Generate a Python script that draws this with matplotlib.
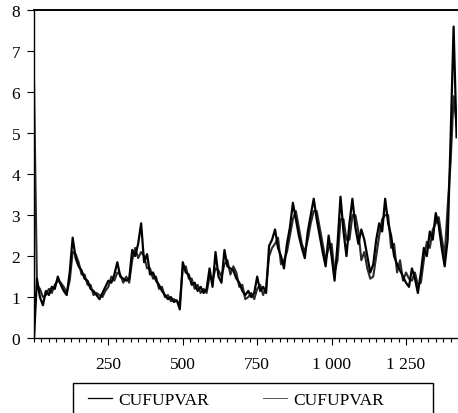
import numpy as np
import matplotlib
matplotlib.use("Agg")
import matplotlib.pyplot as plt
from matplotlib.ticker import MultipleLocator
from matplotlib.patches import Rectangle

cufupvar_a = [
    0.0, 1.45, 1.0, 0.8, 1.15, 1.05, 1.25, 1.2, 1.5, 1.3,
    1.15, 1.05, 1.6, 2.45, 1.95, 1.75, 1.65, 1.45, 1.4, 1.2,
    1.15, 1.05, 0.95, 1.1, 1.25, 1.4, 1.35, 1.55, 1.85, 1.5,
    1.45, 1.4, 1.45, 2.15, 2.0, 2.3, 2.8, 1.85, 2.05, 1.55,
    1.6, 1.4, 1.3, 1.15, 1.05, 0.95, 1.0, 0.88, 0.92, 0.7,
    1.85, 1.6, 1.55, 1.3, 1.35, 1.15, 1.25, 1.1, 1.2, 1.7,
    1.25, 2.1, 1.5, 1.35, 2.15, 1.75, 1.7, 1.65, 1.45, 1.35,
    1.15, 1.05, 1.15, 1.0, 1.1, 1.5, 1.15, 1.25, 1.1, 2.25,
    2.4, 2.65, 2.2, 2.0, 1.7, 2.3, 2.7, 3.3, 2.9, 2.5,
    2.2, 1.95, 2.6, 3.0, 3.4, 2.9, 2.5, 2.1, 1.75, 2.5,
    2.0, 1.4, 2.3, 3.45, 2.6, 2.0, 2.8, 3.4, 2.7, 2.3,
    2.65, 2.4, 2.0, 1.6, 1.8, 2.4, 2.8, 2.6, 3.4, 2.8,
    2.5, 2.0, 1.8, 1.65, 1.5, 1.35, 1.25, 1.7, 1.45, 1.1,
    1.6, 2.2, 2.0, 2.6, 2.4, 3.05, 2.75, 2.2, 1.75, 2.4,
    4.9, 7.6, 4.9,
]
cufupvar_b = [
    6.3, 1.3, 1.2, 1.0, 1.05, 1.2, 1.1, 1.3, 1.4, 1.35,
    1.25, 1.1, 1.4, 2.1, 2.05, 1.85, 1.55, 1.55, 1.3, 1.3,
    1.05, 1.1, 1.05, 1.0, 1.15, 1.25, 1.5, 1.4, 1.6, 1.55,
    1.35, 1.5, 1.35, 1.9, 2.2, 1.95, 2.1, 2.0, 1.7, 1.7,
    1.45, 1.5, 1.2, 1.25, 1.0, 1.05, 0.9, 0.95, 0.9, 0.85,
    1.7, 1.75, 1.45, 1.45, 1.2, 1.3, 1.1, 1.2, 1.1, 1.5,
    1.4, 1.7, 1.65, 1.5, 1.8, 1.9, 1.55, 1.75, 1.6, 1.25,
    1.3, 0.95, 1.0, 1.1, 0.95, 1.2, 1.3, 1.05, 1.25, 2.0,
    2.2, 2.3, 2.45, 1.8, 1.9, 2.1, 2.5, 2.9, 3.1, 2.7,
    2.3, 2.1, 2.4, 2.8, 3.1, 3.1, 2.7, 2.3, 1.9, 2.2,
    2.3, 1.6, 1.9, 2.9, 2.9, 2.4, 2.4, 3.0, 3.0, 2.6,
    1.9, 2.1, 1.7, 1.45, 1.5, 2.0, 2.5, 2.9, 3.0, 3.0,
    2.2, 2.3, 1.6, 1.9, 1.4, 1.6, 1.45, 1.4, 1.6, 1.3,
    1.35, 1.9, 2.35, 2.2, 2.65, 2.8, 2.95, 2.45, 2.0, 3.2,
    4.3, 5.9, 5.2,
]
obs = np.arange(len(cufupvar_a)) * 10

x_ticks = [250, 500, 750, 1000, 1250]
x_labels = ["250", "500", "750", "1 000", "1 250"]
y_ticks = [0, 1, 2, 3, 4, 5, 6, 7, 8]

plt.rcParams["font.family"] = ["Liberation Serif", "DejaVu Serif"]

fig = plt.figure(figsize=(4.58, 4.14), dpi=100)
ax = fig.add_axes([0.0742, 0.181, 0.924, 0.792])

ax.plot(obs, cufupvar_b, color="#2a2a2a", linewidth=1.5, label="CUFUPVAR")
ax.plot(obs, cufupvar_a, color="black", linewidth=1.6, label="CUFUPVAR")

ax.set_xlim(0, 1422)
ax.set_ylim(0, 8)
ax.set_xticks(x_ticks)
ax.set_xticklabels(x_labels)
ax.xaxis.set_minor_locator(MultipleLocator(25))
ax.set_yticks(y_ticks)

ax.tick_params(axis="both", which="major", direction="out", length=5, width=0.8,
               labelsize=12.5, color="black")
ax.tick_params(axis="x", which="minor", direction="out", length=3, width=0.8)
ax.tick_params(axis="x", which="major", pad=8)
ax.tick_params(axis="y", which="major", pad=5)

ax.spines["right"].set_visible(False)
ax.spines["top"].set_linewidth(1.4)
ax.spines["left"].set_linewidth(1.0)
ax.spines["bottom"].set_linewidth(1.0)

# legend box below the plot, bottom edge cut by the image border
fig.patches.append(Rectangle((73 / 458, -0.01), 360 / 458, 30 / 414 + 0.01,
                             transform=fig.transFigure, fill=False,
                             edgecolor="black", linewidth=1.0))
handles, labels = ax.get_legend_handles_labels()
leg = fig.legend([handles[1], handles[0]], [labels[1], labels[0]], ncol=2,
                 loc="center left", bbox_to_anchor=(76 / 458, 1 - 401 / 414),
                 frameon=False, fontsize=12.5, handlelength=1.4,
                 handletextpad=0.35, columnspacing=3.1, borderpad=0.2)
leg.get_lines()[0].set_linewidth(0.9)
leg.get_lines()[1].set_linewidth(0.7)
leg.get_lines()[1].set_color("#555555")

fig.savefig("out.png", dpi=100)
